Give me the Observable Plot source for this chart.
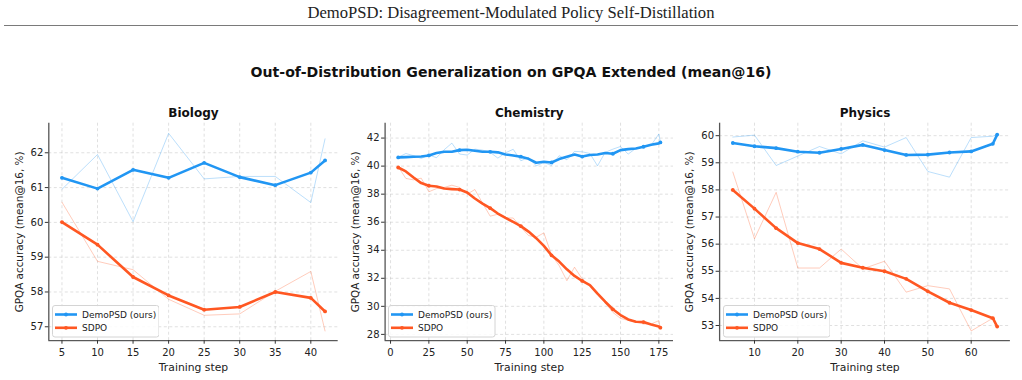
<!DOCTYPE html>
<html>
<head>
<meta charset="utf-8">
<script src="https://cdn.jsdelivr.net/npm/d3@7"></script>
<script src="https://cdn.jsdelivr.net/npm/@observablehq/plot@0.6"></script>
<style>
  body { margin: 0; background: #fff; }
  #fig { position: relative; width: 1022px; height: 380px; overflow: hidden; font-family: "DejaVu Sans", sans-serif; color: #222; }
  .header { position: absolute; left: 0; top: 3px; width: 1022px; line-height: 20px; text-align: center;
            font-family: "Liberation Serif", "DejaVu Serif", serif; font-size: 16.6px; color: #222; }
  .hrule { position: absolute; left: 4px; width: 1014px; top: 25px; height: 0; border-top: 1.6px solid #7a7a7a; }
  .suptitle { position: absolute; left: 0; top: 62px; width: 1022px; line-height: 20px; text-align: center;
              font-weight: bold; font-size: 14.1px; color: #111; }
  .panel { position: absolute; top: 100px; }
  .legend { position: absolute; }
</style>
</head>
<body>
<div id="fig">
  <div class="header">DemoPSD: Disagreement-Modulated Policy Self-Distillation</div>
  <div class="hrule"></div>
  <div class="suptitle">Out-of-Distribution Generalization on GPQA Extended (mean@16)</div>
</div>
<script>
// ---- Series names and shared labels ----
const seriesNames = ["DemoPSD (ours)", "SDPO"];
const seriesColors = ["#2196F3", "#FF5722"];
const xLabel = "Training step";
const yLabel = "GPQA accuracy (mean@16, %)";

// ---- Biology ----
const bioSteps      = [5, 10, 15, 20, 25, 30, 35, 40, 42];
const bioOursRaw    = [60.95, 61.95, 60.02, 62.56, 61.25, 61.32, 61.32, 60.57, 62.40];
const bioOursSmooth = [61.28, 60.97, 61.51, 61.28, 61.71, 61.30, 61.07, 61.43, 61.78];
const bioSdpoRaw    = [60.58, 58.88, 58.64, 57.79, 57.33, 57.37, 58.02, 58.59, 56.88];
const bioSdpoSmooth = [60.01, 59.36, 58.43, 57.90, 57.49, 57.57, 58.00, 57.83, 57.44];
const bioXTicks = [5, 10, 15, 20, 25, 30, 35, 40];
const bioYTicks = [57, 58, 59, 60, 61, 62];

// ---- Chemistry ----
const chemSteps = [5, 10, 15, 20, 25, 30, 35, 40, 45, 50, 55, 60, 65, 70, 75, 80, 85, 90,
                   95, 100, 105, 110, 115, 120, 125, 130, 135, 140, 145, 150, 155, 160, 165, 170, 175, 176];
const chemOursRaw = [40.62, 40.90, 40.74, 40.55, 40.79, 40.60, 41.17, 41.64, 40.86, 40.79, 41.21, 41.14,
                     40.98, 40.57, 40.95, 41.20, 40.38, 40.62, 40.02, 40.26, 40.05, 40.74, 40.45, 41.05,
                     41.02, 40.90, 40.02, 40.98, 41.21, 41.40, 40.86, 41.26, 41.40, 41.50, 42.29, 41.69];
const chemOursSmooth = [40.62, 40.64, 40.67, 40.69, 40.76, 40.93, 41.02, 41.02, 41.14, 41.17, 41.10, 41.02,
                        41.02, 40.98, 40.83, 40.76, 40.67, 40.52, 40.24, 40.31, 40.26, 40.50, 40.67, 40.83,
                        40.68, 40.79, 40.83, 40.93, 40.88, 41.14, 41.21, 41.26, 41.38, 41.52, 41.62, 41.69];
const chemSdpoRaw = [39.95, 39.12, 39.02, 39.14, 38.17, 38.40, 38.48, 38.64, 38.48, 38.00, 38.33, 37.36,
                     36.43, 36.57, 36.30, 36.30, 35.64, 35.05, 34.93, 35.24, 33.67, 32.90, 31.83, 32.79,
                     31.95, 31.48, 30.85, 30.25, 29.57, 29.14, 29.00, 28.88, 28.74, 28.74, 28.98, 28.38];
const chemSdpoSmooth = [39.90, 39.62, 39.19, 38.79, 38.60, 38.55, 38.40, 38.36, 38.33, 38.12, 37.69, 37.33,
                        37.00, 36.62, 36.31, 36.02, 35.72, 35.33, 34.86, 34.31, 33.64, 33.19, 32.64, 32.17,
                        31.81, 31.52, 30.90, 30.33, 29.79, 29.38, 29.07, 28.90, 28.88, 28.71, 28.57, 28.48];
const chemXTicks = [0, 25, 50, 75, 100, 125, 150, 175];
const chemYTicks = [28, 30, 32, 34, 36, 38, 40, 42];

// ---- Physics ----
const physSteps      = [5, 10, 15, 20, 25, 30, 35, 40, 45, 50, 55, 60, 65, 66];
const physOursRaw    = [59.95, 60.02, 58.90, 59.25, 59.60, 59.33, 59.81, 59.58, 59.93, 58.68, 58.47, 59.93, 59.98, 60.05];
const physOursSmooth = [59.73, 59.61, 59.54, 59.41, 59.37, 59.51, 59.66, 59.47, 59.29, 59.30, 59.38, 59.42, 59.70, 60.04];
const physSdpoRaw    = [58.66, 56.20, 57.91, 55.12, 55.12, 55.82, 55.09, 55.37, 54.23, 54.47, 54.35, 52.80, 53.27, 52.96];
const physSdpoSmooth = [58.00, 57.31, 56.59, 56.04, 55.82, 55.31, 55.13, 55.00, 54.72, 54.26, 53.84, 53.57, 53.27, 52.96];
const physXTicks = [10, 20, 30, 40, 50, 60];
const physYTicks = [53, 54, 55, 56, 57, 58, 59, 60];

// ---- Panel layout ----
const panels = [
  { title: "Biology", steps: bioSteps, series: [[bioOursRaw, bioOursSmooth], [bioSdpoRaw, bioSdpoSmooth]],
    xTicks: bioXTicks, yTicks: bioYTicks, xDomain: [3.15, 43.85], yDomain: [56.60, 62.85],
    left: 0, width: 340, marginLeft: 48.3, marginRight: 2.3, markEvery: 1 },
  { title: "Chemistry", steps: chemSteps, series: [[chemOursRaw, chemOursSmooth], [chemSdpoRaw, chemSdpoSmooth]],
    xTicks: chemXTicks, yTicks: chemYTicks, xDomain: [-3.55, 184.55], yDomain: [27.55, 43.06],
    left: 340, width: 340, marginLeft: 44.6, marginRight: 7, markEvery: 4 },
  { title: "Physics", steps: physSteps, series: [[physOursRaw, physOursSmooth], [physSdpoRaw, physSdpoSmooth]],
    xTicks: physXTicks, yTicks: physYTicks, xDomain: [1.95, 69.05], yDomain: [52.44, 60.46],
    left: 680, width: 342, marginLeft: 39.1, marginRight: 12.1, markEvery: 1 }
];
const panelHeight = 280, marginTop = 22.7, marginBottom = 39.8;

const fig = document.getElementById("fig");

for (const p of panels) {
  // long-format rows for each series
  const rows = [];
  p.series.forEach(([raw, smooth], s) => {
    p.steps.forEach((step, i) => {
      const last = i === p.steps.length - 1;
      rows.push({ name: seriesNames[s], step, raw: raw[i], smooth: smooth[i],
                  marker: i % p.markEvery === 0 || last });
    });
  });
  const colorScale = { domain: seriesNames, range: seriesColors };

  const chart = Plot.plot({
    width: p.width, height: panelHeight,
    marginLeft: p.marginLeft, marginRight: p.marginRight, marginTop, marginBottom,
    style: { fontFamily: "DejaVu Sans, sans-serif", fontSize: "10px", color: "#222", background: "transparent", overflow: "visible" },
    x: { domain: p.xDomain },
    y: { domain: p.yDomain },
    color: colorScale,
    marks: [
      Plot.gridX(p.xTicks, { stroke: "#b8b8b8", strokeOpacity: 0.55, strokeWidth: 0.8, strokeDasharray: "3,2.5" }),
      Plot.gridY(p.yTicks, { stroke: "#b8b8b8", strokeOpacity: 0.55, strokeWidth: 0.8, strokeDasharray: "3,2.5" }),
      Plot.ruleX([p.xDomain[0]], { stroke: "#555", strokeWidth: 1.3 }),
      Plot.ruleY([p.yDomain[0]], { stroke: "#333", strokeWidth: 1 }),
      Plot.axisX({ ticks: p.xTicks, tickFormat: d => String(d), tickSize: 3.5, tickPadding: 4.5, label: null, stroke: "#333", fill: "#222" }),
      Plot.axisY({ ticks: p.yTicks, tickFormat: d => String(d), tickSize: 3.5, tickPadding: 2, label: null, stroke: "#333", fill: "#222" }),
      // per-step evaluations (thin, faded)
      Plot.line(rows, { x: "step", y: "raw", z: "name", stroke: "name", strokeOpacity: 0.3, strokeWidth: 1 }),
      // smoothed curves
      Plot.line(rows, { x: "step", y: "smooth", z: "name", stroke: "name", strokeWidth: 2.6 }),
      Plot.dot(rows.filter(d => d.marker), { x: "step", y: "smooth", fill: "name", r: 1.9 }),
      // titles and axis labels
      Plot.text([p.title], { text: d => d, frameAnchor: "top", lineAnchor: "middle", dy: -9.7,
                             fontWeight: "bold", fontSize: 12, fill: "#111" }),
      Plot.text([xLabel], { text: d => d, frameAnchor: "bottom", lineAnchor: "middle", dy: 27,
                            fontSize: 10.8, fill: "#222" }),
      Plot.text([yLabel], { text: d => d, frameAnchor: "left", textAnchor: "middle", lineAnchor: "middle",
                            dx: -29.5, rotate: -90, fontSize: 10.4, fill: "#222" })
    ]
  });
  const holder = document.createElement("div");
  holder.className = "panel";
  holder.style.left = p.left + "px";
  holder.appendChild(chart);
  fig.appendChild(holder);

  // legend box in the lower-left corner of the axes
  const lw = 106.5, lh = 31.5;
  const lgLeft = p.left + p.marginLeft + 3.4;
  const lgTop = 100 + panelHeight - marginBottom - 3.5 - lh;
  const lg = d3.create("svg")
    .attr("class", "legend")
    .attr("width", lw + 1).attr("height", lh + 1)
    .style("left", lgLeft + "px").style("top", lgTop + "px");
  lg.append("rect").attr("x", 0.5).attr("y", 0.5).attr("width", lw).attr("height", lh).attr("rx", 2.5)
    .attr("fill", "#fff").attr("fill-opacity", 0.85).attr("stroke", "#d4d4d4").attr("stroke-width", 1);
  seriesNames.forEach((name, i) => {
    const cy = 9.5 + i * 13.3;
    lg.append("line").attr("x1", 3).attr("x2", 25).attr("y1", cy).attr("y2", cy)
      .attr("stroke", seriesColors[i]).attr("stroke-width", 2.6);
    lg.append("circle").attr("cx", 14).attr("cy", cy).attr("r", 1.9).attr("fill", seriesColors[i]);
    lg.append("text").attr("x", 30).attr("y", cy).attr("dy", "0.35em")
      .attr("font-family", "DejaVu Sans, sans-serif").attr("font-size", 9).attr("fill", "#222")
      .text(name);
  });
  fig.appendChild(lg.node());
}
</script>
</body>
</html>
